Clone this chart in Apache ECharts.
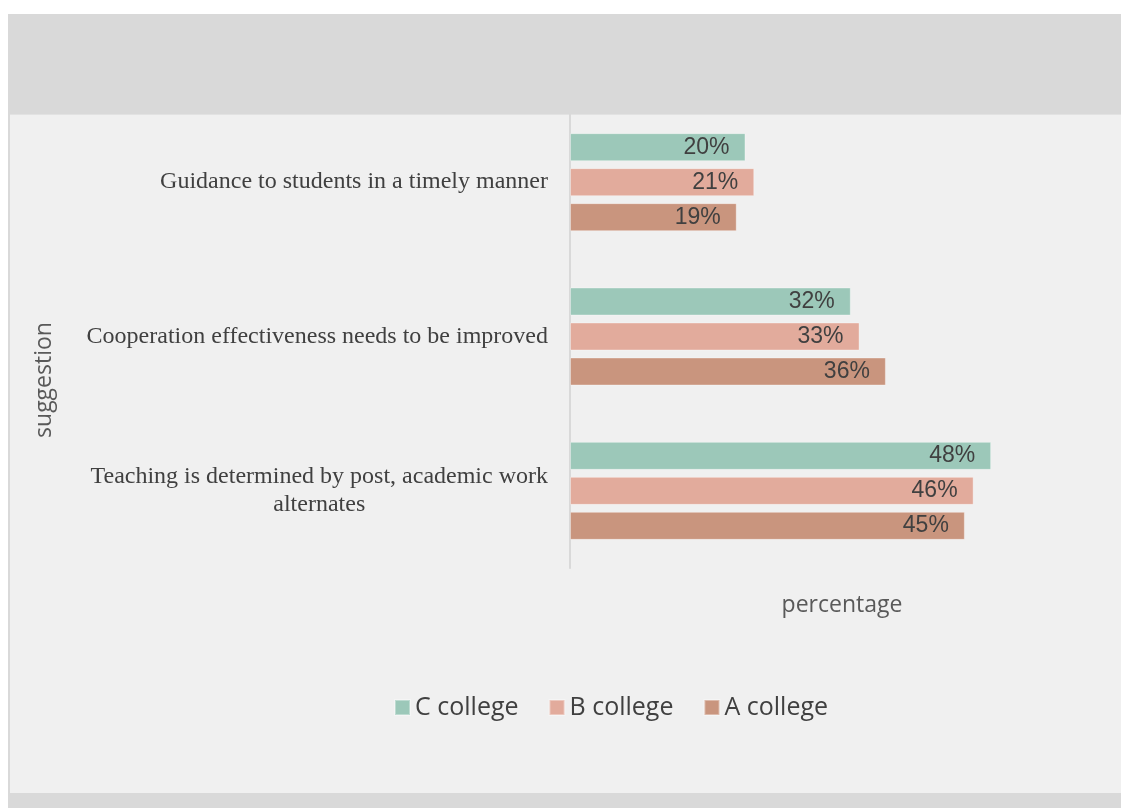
<!DOCTYPE html>
<html>
<head>
<meta charset="utf-8">
<script src="https://cdn.jsdelivr.net/npm/echarts@6/dist/echarts.min.js"></script>
<style>
  html, body { margin: 0; padding: 0; background: #ffffff; width: 1121px; height: 808px; overflow: hidden; }
  #outer { position: absolute; left: 8px; top: 14px; width: 1113px; height: 794px; background: #d9d9d9; }
  #panel { position: absolute; left: 10px; top: 114px; width: 1111px; height: 678px; background: #f0f0f0; border-top: 1px solid #e2e2e2; }
  #chart { position: absolute; left: 0; top: 0; width: 1121px; height: 808px; }
</style>
</head>
<body>
<div id="outer"></div>
<div id="panel"></div>
<div id="chart"></div>
<script>
const categories = [
  'Guidance to students in a timely manner',
  'Cooperation effectiveness needs to be improved',
  'Teaching is determined by post, academic work\nalternates'
];
const seriesNames = ['C college', 'B college', 'A college'];
const cCollege = [20, 32, 48];
const bCollege = [21, 33, 46];
const aCollege = [19, 36, 45];
const colors = ['#9cc8b9', '#e2ab9c', '#c9957e'];
const xAxisName = 'percentage';
const yAxisName = 'suggestion';

const chart = echarts.init(document.getElementById('chart'), null, { renderer: 'canvas' });

function barSeries(name, data, color) {
  return {
    name: name,
    type: 'bar',
    data: data,
    barWidth: 28,
    barGap: '25%',
    itemStyle: { color: color, borderColor: 'rgba(255,255,255,0.35)', borderWidth: 1 },
    label: {
      show: true,
      position: 'insideRight',
      distance: 16,
      formatter: '{c}%',
      fontFamily: 'Liberation Sans, Arial, sans-serif',
      fontSize: 23,
      color: '#404040'
    }
  };
}

chart.setOption({
  backgroundColor: 'transparent',
  animation: false,
  color: colors,
  grid: { left: 570, top: 105, right: 7, bottom: 240, containLabel: false },
  xAxis: {
    type: 'value',
    min: 0,
    max: 62,
    name: xAxisName,
    nameLocation: 'middle',
    nameGap: 26,
    nameTextStyle: { fontFamily: 'Open Sans, sans-serif', fontSize: 23, color: '#595959' },
    axisLine: { show: false },
    axisTick: { show: false },
    axisLabel: { show: false },
    splitLine: { show: false }
  },
  yAxis: {
    type: 'category',
    inverse: true,
    data: categories,
    axisLine: { show: true, lineStyle: { color: '#d9d9d9', width: 2 } },
    axisTick: { show: false },
    axisLabel: {
      margin: 22,
      formatter: function (v) { return '{t|' + v + '}'; },
      rich: {
        t: {
          align: 'center',
          fontFamily: 'Liberation Serif, Times New Roman, serif',
          fontSize: 24,
          lineHeight: 28,
          color: '#404040'
        }
      }
    }
  },
  legend: {
    data: seriesNames,
    left: 389,
    top: 690,
    itemWidth: 15,
    itemHeight: 15,
    itemGap: 30,
    icon: 'rect',
    textStyle: { fontFamily: 'Open Sans, sans-serif', fontSize: 25, color: '#404040' }
  },
  graphic: [
    {
      type: 'rect',
      z: 100,
      shape: { x: 8, y: 14, width: 1113, height: 100 },
      style: { fill: '#d9d9d9' },
      silent: true
    },
    {
      type: 'text',
      z: 100,
      x: 44,
      y: 380,
      rotation: Math.PI / 2,
      style: {
        text: yAxisName,
        fontFamily: 'Open Sans, sans-serif',
        fontSize: 23,
        fill: '#595959',
        align: 'center',
        verticalAlign: 'middle'
      },
      silent: true
    }
  ],
  series: [
    barSeries(seriesNames[0], cCollege, colors[0]),
    barSeries(seriesNames[1], bCollege, colors[1]),
    barSeries(seriesNames[2], aCollege, colors[2])
  ]
});
</script>
</body>
</html>
